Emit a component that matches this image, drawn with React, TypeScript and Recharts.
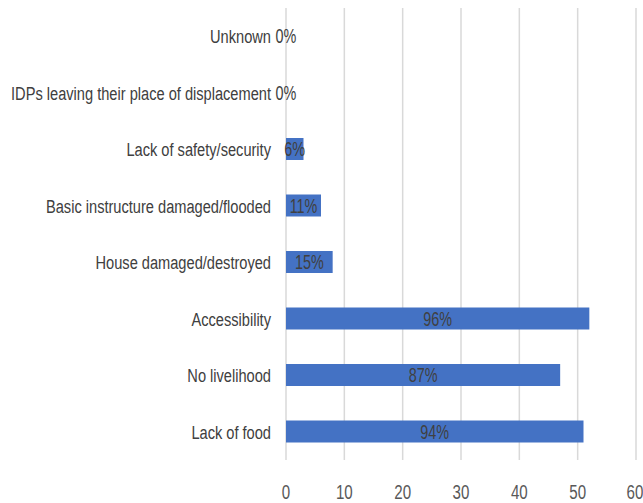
import React from 'react';
import { BarChart, Bar, XAxis, YAxis, CartesianGrid, LabelList } from 'recharts';

// top to bottom, as drawn
const categories = [
  'Unknown',
  'IDPs leaving their place of displacement',
  'Lack of safety/security',
  'Basic instructure damaged/flooded',
  'House damaged/destroyed',
  'Accessibility',
  'No livelihood',
  'Lack of food',
];
const values = [0, 0, 3, 6, 8, 52, 47, 51];
const percentLabels = ['0%', '0%', '6%', '11%', '15%', '96%', '87%', '94%'];
const xTicks = [0, 10, 20, 30, 40, 50, 60];

const data = categories.map((name, i) => ({
  name,
  value: values[i],
  label: percentLabels[i],
}));

// narrow, Calibri-like look: Arial metrics squeezed horizontally
const font = "'Liberation Sans', Arial, sans-serif";

const CategoryTick = (props: any) => {
  const { x, y, payload } = props;
  return (
    <g transform={`translate(${x},${y}) scale(0.77,1)`}>
      <text x={0} y={0} dy={7} textAnchor="end" fill="#404040" fontSize={19} fontFamily={font}>
        {payload.value}
      </text>
    </g>
  );
};

const ValueTick = (props: any) => {
  const { x, y, payload } = props;
  return (
    <g transform={`translate(${x},${y}) scale(0.72,1)`}>
      <text x={0} y={0} dy={39} textAnchor="middle" fill="#595959" fontSize={21} fontFamily={font}>
        {payload.value}
      </text>
    </g>
  );
};

const BarLabel = (props: any) => {
  const { x, y, width, height, value } = props;
  const cx = Number(x) + Number(width) / 2;
  const cy = Number(y) + Number(height) / 2;
  return (
    <g transform={`translate(${cx},${cy}) scale(0.72,1)`}>
      <text x={0} y={0} dy={7} textAnchor="middle" fill="#404040" fontSize={20} fontFamily={font}>
        {value}
      </text>
    </g>
  );
};

const App: React.FC = () => {
  return (
    <div style={{ position: 'absolute', left: 0, top: 0 }}>
      <BarChart
        width={643}
        height={503}
        data={data}
        layout="vertical"
        margin={{ top: 8, right: 7, bottom: 0, left: 0 }}
        barSize={22}
      >
        <CartesianGrid horizontal={false} stroke="#d9d9d9" strokeWidth={1.5} />
        <XAxis
          type="number"
          domain={[0, 60]}
          ticks={xTicks}
          axisLine={false}
          tickLine={false}
          tickSize={0}
          tickMargin={0}
          height={43}
          tick={<ValueTick />}
        />
        <YAxis
          type="category"
          dataKey="name"
          width={286}
          axisLine={false}
          tickLine={false}
          tickSize={0}
          tickMargin={15}
          interval={0}
          tick={<CategoryTick />}
        />
        <Bar
          dataKey="value"
          fill="#4472c4"
          minPointSize={(v: number) => (v === 0 ? 0.01 : 0)}
          isAnimationActive={false}
        >
          <LabelList dataKey="label" content={<BarLabel />} />
        </Bar>
      </BarChart>
    </div>
  );
};

export default App;
